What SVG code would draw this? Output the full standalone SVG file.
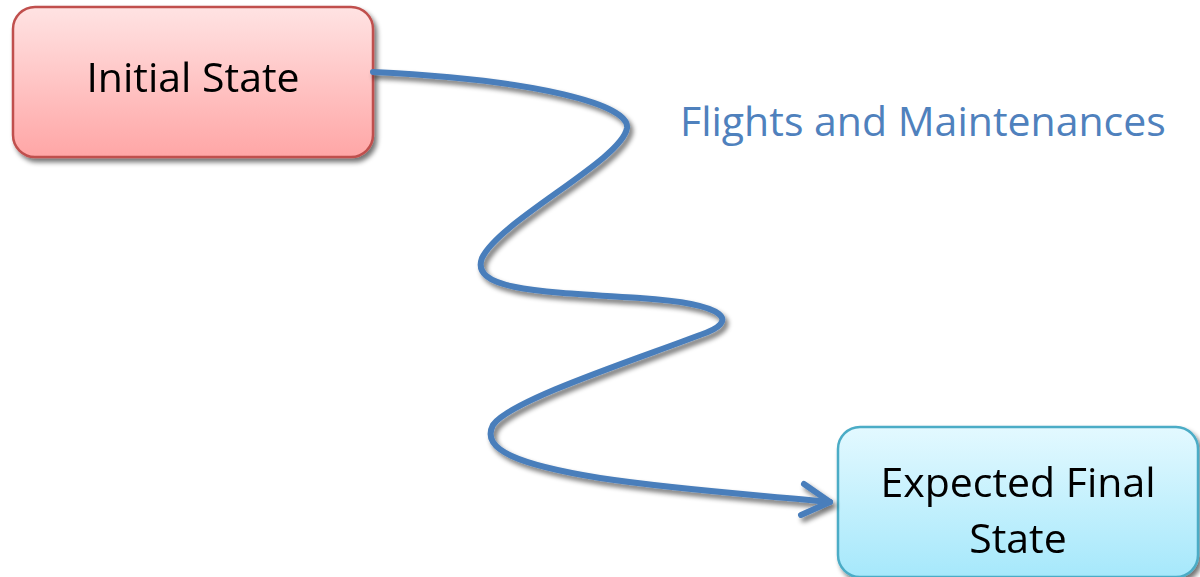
<svg xmlns="http://www.w3.org/2000/svg" width="1200" height="577" viewBox="0 0 1200 577">
<defs>
<linearGradient id="gRed" x1="0" y1="0" x2="0" y2="1"><stop offset="0" stop-color="#ffe3e3"/><stop offset="1" stop-color="#ffa6a6"/></linearGradient>
<linearGradient id="gBlue" x1="0" y1="0" x2="0" y2="1"><stop offset="0" stop-color="#e3f9ff"/><stop offset="1" stop-color="#a6e8fb"/></linearGradient>
<filter id="sh" x="-20%" y="-20%" width="140%" height="140%"><feGaussianBlur in="SourceAlpha" stdDeviation="2.5"/><feOffset dx="3" dy="4" result="b"/><feComponentTransfer><feFuncA type="linear" slope="0.55"/></feComponentTransfer><feMerge><feMergeNode/><feMergeNode in="SourceGraphic"/></feMerge></filter>
<style>
.lbl{font-family:"Open Sans","Liberation Sans",sans-serif;font-size:41px;fill:#000;text-anchor:middle}
.conn{fill:none;stroke:#4a7ebb;stroke-width:6;stroke-linecap:round;stroke-linejoin:round}
</style>
</defs>
<g id="initial" filter="url(#sh)">
<rect x="13" y="7" width="360" height="150" rx="22" fill="url(#gRed)" stroke="#c0504d" stroke-width="2.5"/>
<text class="lbl" x="193" y="92">Initial State</text>
</g>
<g id="final" filter="url(#sh)">
<rect x="838" y="427" width="360" height="150" rx="22" fill="url(#gBlue)" stroke="#4bacc6" stroke-width="2.5"/>
<text class="lbl" x="1018" y="497">Expected Final</text>
<text class="lbl" x="1018" y="553">State</text>
</g>
<g id="connectors" filter="url(#sh)">
<path class="conn" d="M373,72 C540,80 630,105 627,128 C622,160 500,220 482,258 C470,290 540,292 640,298 C730,304 740,322 700,335 C640,358 510,400 493,425 C480,450 520,465 600,478 C680,490 760,495 830,502"/>
<path class="conn" d="M804,484 L830,502 L801,515"/>
</g>
<text id="edge-label" x="680" y="136" font-family="Open Sans, Liberation Sans, sans-serif" font-size="41" fill="#4f81bd">Flights and Maintenances</text>
</svg>
